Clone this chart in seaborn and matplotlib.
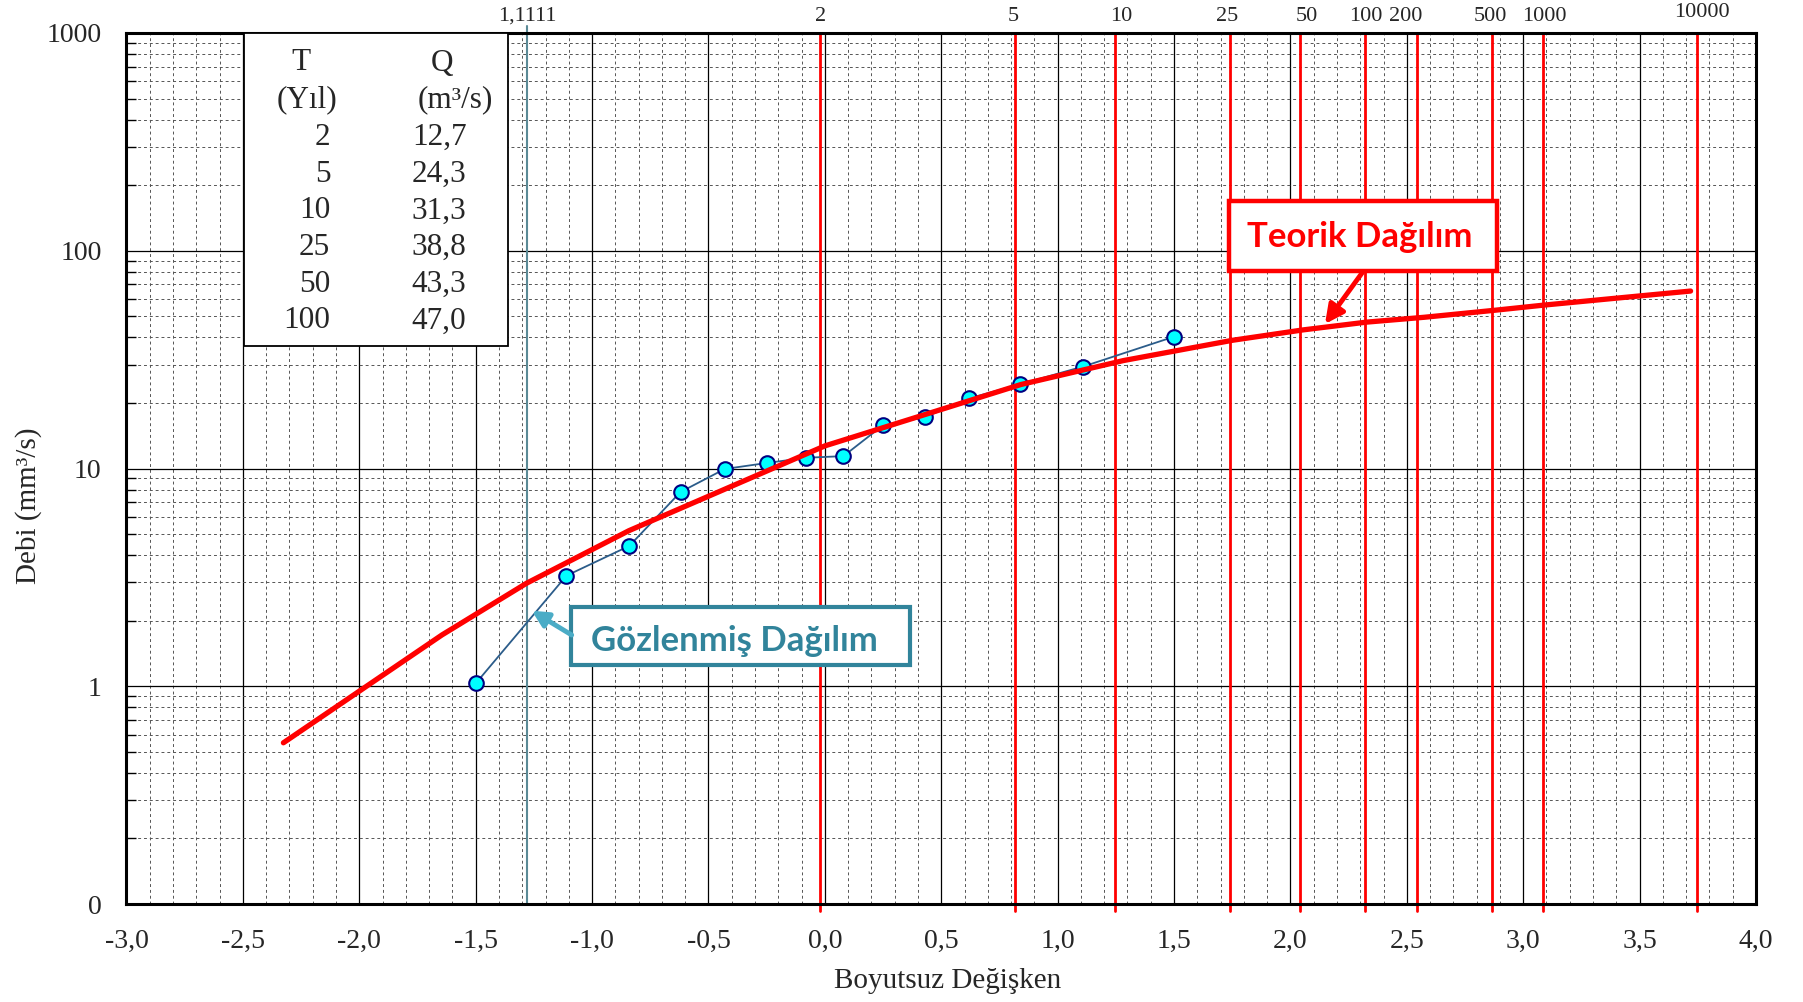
import numpy as np
import pandas as pd
import matplotlib
matplotlib.use("Agg")
import matplotlib.pyplot as plt
import seaborn as sns
from matplotlib.patches import Rectangle
from matplotlib.ticker import FixedLocator, LogLocator, MultipleLocator, NullFormatter, FixedFormatter

# ---------------- data ----------------
theo_z = [-2.326, -1.645, -1.282, -0.842, 0.0, 0.842, 1.282, 1.751, 2.054, 2.326, 2.576, 2.878, 3.090, 3.719]
theo_q = [0.55, 1.72, 2.97, 5.18, 12.7, 24.3, 31.3, 38.8, 43.3, 47.0, 49.5, 53.3, 56.3, 65.3]

obs_z = [-1.50, -1.11, -0.84, -0.62, -0.43, -0.25, -0.08, 0.08, 0.25, 0.43, 0.62, 0.84, 1.11, 1.50]
obs_q = [1.03, 3.22, 4.41, 7.80, 9.95, 10.6, 11.2, 11.4, 15.8, 17.2, 21.0, 24.4, 29.4, 40.3]

period_labels = ["1,1111", "2", "5", "10", "25", "50", "100", "200", "500", "1000", "10000"]
period_z = [-1.278, -0.020, 0.818, 1.248, 1.741, 2.042, 2.322, 2.545, 2.864, 3.084, 3.747]

table_T = [2, 5, 10, 25, 50, 100]
table_Q = [12.7, 24.3, 31.3, 38.8, 43.3, 47.0]

x_ticks = [-3.0, -2.5, -2.0, -1.5, -1.0, -0.5, 0.0, 0.5, 1.0, 1.5, 2.0, 2.5, 3.0, 3.5, 4.0]
y_ticks = [0.1, 1, 10, 100, 1000]
y_tick_labels = ["0", "1", "10", "100", "1000"]

x_label = "Boyutsuz Değişken"
y_label = "Debi (mm³/s)"
theo_name = "Teorik Dağılım"
obs_name = "Gözlenmiş Dağılım"

# ---------------- style ----------------
sns.set_style("white")
plt.rcParams['font.family'] = ['Liberation Serif', 'DejaVu Serif']

W, H = 1803, 1002
fig = plt.figure(figsize=(W / 100, H / 100), dpi=100)
ax_l, ax_r, ax_t, ax_b = 126.5, 1756, 33, 904
ax = fig.add_axes([ax_l / W, 1 - ax_b / H, (ax_r - ax_l) / W, (ax_b - ax_t) / H])


def fp(x, y):
    return (x / W, 1 - y / H)


df_theo = pd.DataFrame({"z": theo_z, "Q": theo_q})
df_obs = pd.DataFrame({"z": obs_z, "Q": obs_q})

ax.set_yscale('log')
ax.set_xlim(-3, 4)
ax.set_ylim(0.1, 1000)

# grid
ax.xaxis.set_major_locator(FixedLocator(x_ticks))
ax.xaxis.set_major_formatter(FixedFormatter([f"{v:.1f}".replace('.', ',') for v in x_ticks]))
ax.xaxis.set_minor_locator(MultipleLocator(0.1))
ax.yaxis.set_major_locator(FixedLocator(y_ticks))
ax.yaxis.set_major_formatter(FixedFormatter(y_tick_labels))
ax.yaxis.set_minor_locator(LogLocator(base=10, subs=np.arange(2, 10), numticks=20))
ax.yaxis.set_minor_formatter(NullFormatter())

ax.grid(True, which='minor', color='#555555', lw=0.7, ls=(0, (3, 3)))
ax.grid(True, which='major', color='black', lw=0.9)
ax.set_axisbelow(True)

ax.tick_params(axis='both', which='major', length=0, labelsize=20)
ax.tick_params(axis='x', which='major', pad=18)
ax.tick_params(axis='y', which='major', pad=18)
ax.tick_params(axis='x', which='minor', length=0)
ax.tick_params(axis='y', which='minor', direction='in', length=7, width=1, color='black', left=True)

for s in ax.spines.values():
    s.set_linewidth(2.2)
    s.set_color('black')
    s.set_zorder(5)

# return-period lines
for i, (lab, z) in enumerate(zip(period_labels, period_z)):
    if i == 0:
        ax.axvline(z, ymin=0, ymax=1.008, color='#5B8A96', lw=1.5, clip_on=False, zorder=2)
    else:
        ax.axvline(z, ymin=-0.008, ymax=1, color='#FF0000', lw=2.0, clip_on=False, zorder=2)

nudges = {"1,1111": 0.0, "2": 0.0, "5": -0.01, "10": 0.024, "25": -0.014, "50": 0.03,
          "100": 0.0, "200": -0.05, "500": -0.006, "1000": 0.006, "10000": 0.02}
trans = ax.get_xaxis_transform()
for lab, z in zip(period_labels, period_z):
    yy = 1.0235 if lab == "10000" else 1.0195
    ax.text(z + nudges[lab], yy, lab, transform=trans, ha='center', va='center',
            fontsize=16, clip_on=False)

# theoretical curve
sns.lineplot(data=df_theo, x="z", y="Q", ax=ax, color='#FF0000', lw=3.8, sort=False,
             solid_capstyle='round', zorder=4, estimator=None)
# observed
sns.lineplot(data=df_obs, x="z", y="Q", ax=ax, color='#2B5C8A', lw=1.3, sort=False,
             marker='o', markersize=10.5, markerfacecolor='#00FFFF', markeredgecolor='#000080',
             markeredgewidth=1.5, zorder=3, estimator=None)

ax.set_xlabel("")
ax.set_ylabel("")
fig.text(*fp(948, 981), x_label, ha='center', va='center', fontsize=21)
fig.text(*fp(29, 506), y_label, ha='center', va='center', fontsize=21, rotation=90)

# table inset
x0, y0 = fp(244.2, 345.7)
x1, y1 = fp(508.2, 33.3)
ax.add_patch(Rectangle((x0, y0), x1 - x0, y1 - y0, transform=fig.transFigure, facecolor='white',
                       edgecolor='black', lw=1.3, clip_on=False, zorder=6))
tkw = dict(transform=fig.transFigure, fontsize=22.5, zorder=7, va='center')
ax.text(*fp(300.8, 63), "T", ha='center', **tkw)
ax.text(*fp(442.4, 63), "Q", ha='center', **tkw)
ax.text(*fp(306.5, 99.5), "(Yıl)", ha='center', **tkw)
ax.text(*fp(455.8, 99.5), "(m³/s)", ha='center', **tkw)
for i, (t, q) in enumerate(zip(table_T, table_Q)):
    yy = 137.5 + i * 36.7
    ax.text(*fp(330.3, yy), f"{t}", ha='right', **tkw)
    ax.text(*fp(411.8, yy), f"{q:.1f}".replace('.', ','), ha='left', **tkw)

# annotation boxes
bx0, by0 = fp(1229, 271)
bx1, by1 = fp(1497, 201)
ax.add_patch(Rectangle((bx0, by0), bx1 - bx0, by1 - by0, transform=fig.transFigure, facecolor='white',
                       edgecolor='#FF0000', lw=3.2, clip_on=False, zorder=6))
ax.text(*fp(1360, 237), theo_name, transform=fig.transFigure, ha='center', va='center',
        fontsize=25, fontweight='bold', color='#FF0000', family=['Lato', 'DejaVu Sans'], zorder=7)
ax.annotate('', xy=fp(1325, 324), xytext=fp(1362, 273), xycoords='figure fraction',
            textcoords='figure fraction',
            arrowprops=dict(arrowstyle='-|>', color='#FF0000', lw=3.5, mutation_scale=28,
                            shrinkA=0, shrinkB=0), zorder=7)

gx0, gy0 = fp(570.5, 665)
gx1, gy1 = fp(910, 607)
ax.add_patch(Rectangle((gx0, gy0), gx1 - gx0, gy1 - gy0, transform=fig.transFigure, facecolor='white',
                       edgecolor='#31849B', lw=3.0, clip_on=False, zorder=6))
ax.text(*fp(734, 641), obs_name, transform=fig.transFigure, ha='center', va='center',
        fontsize=25, fontweight='bold', color='#31849B', family=['Lato', 'DejaVu Sans'], zorder=7)
ax.annotate('', xy=fp(531.7, 610.7), xytext=fp(571.7, 635), xycoords='figure fraction',
            textcoords='figure fraction',
            arrowprops=dict(arrowstyle='-|>', color='#4BACC6', lw=3.5, mutation_scale=24,
                            shrinkA=0, shrinkB=0), zorder=7)

fig.savefig("out.png", dpi=100)
